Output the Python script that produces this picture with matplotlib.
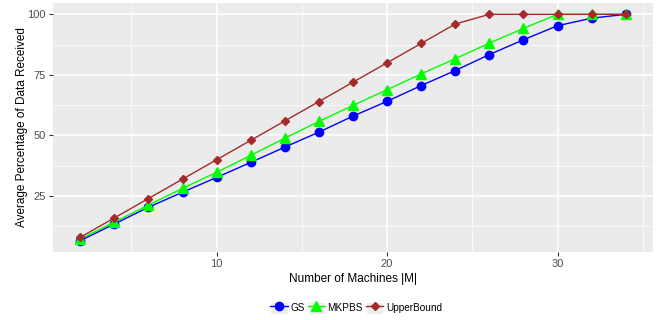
import matplotlib
matplotlib.use("Agg")
import matplotlib.pyplot as plt
from matplotlib.patches import Rectangle
from matplotlib.lines import Line2D
from matplotlib.legend_handler import HandlerTuple

plt.rcParams['font.family'] = ['Liberation Sans', 'DejaVu Sans']

machines = [2, 4, 6, 8, 10, 12, 14, 16, 18, 20, 22, 24, 26, 28, 30, 32, 34]
gs = [6.6, 13.5, 20.4, 26.6, 32.7, 38.9, 45.2, 51.4, 58.0, 64.1, 70.6, 76.8, 83.4, 89.5, 95.3, 98.4, 100]
mkpbs = [7.3, 14.3, 21.3, 28.2, 34.8, 41.8, 48.9, 55.8, 62.4, 68.9, 75.4, 81.7, 88.1, 94.2, 100, 100, 100]
upper = [8, 16, 24, 32, 40, 48, 56, 64, 72, 80, 88, 96, 100, 100, 100, 100, 100]
series_names = ["GS", "MKPBS", "UpperBound"]
x_ticks = [10, 20, 30]
y_ticks = [25, 50, 75, 100]

fig = plt.figure(figsize=(6.6, 3.2), dpi=100)
ax = fig.add_axes([53/660, 68/320, 600/660, 249/320])
ax.set_facecolor('#EBEBEB')
for s in ax.spines.values():
    s.set_visible(False)

styles = [
    dict(color='#0000FF', marker='o', ms=6.0),
    dict(color='#00FF00', marker='^', ms=6.8),
    dict(color='#A52A2A', marker='D', ms=3.8),
]
handles = []
for name, ys, st in zip(series_names, [gs, mkpbs, upper], styles):
    ax.plot(machines, ys, color=st['color'], marker=st['marker'], ms=st['ms'],
            lw=1.0, mec=st['color'], zorder=3)
    bg = Rectangle((0, 0), 1, 1, facecolor='#EDEDED', edgecolor='white', lw=0.8)
    ln = Line2D([], [], color=st['color'], marker=st['marker'], ms=st['ms'], lw=1.0)
    handles.append((bg, ln))

xmin, xmax = min(machines), max(machines)
ymin, ymax = min(gs), 100
dx = (xmax - xmin) * 0.05
dy = (ymax - ymin) * 0.05
ax.set_xlim(xmin - dx, xmax + dx)
ax.set_ylim(ymin - dy, ymax + dy)

ax.set_xticks(x_ticks)
ax.set_yticks(y_ticks)
ax.set_xticks([5, 15, 25, 35], minor=True)
ax.set_yticks([12.5, 37.5, 62.5, 87.5], minor=True)
ax.grid(which='major', color='white', lw=1.1, zorder=0)
ax.grid(which='minor', color='white', lw=0.5, zorder=0)
ax.set_axisbelow(True)
ax.tick_params(which='major', length=3, width=0.8, color='#333333', labelsize=8,
               labelcolor='#4D4D4D', pad=2)
ax.tick_params(which='minor', length=0)

ax.set_xlabel("Number of Machines |M|", fontsize=8.5, labelpad=3)
ax.set_ylabel("Average Percentage of Data Received", fontsize=8.5, labelpad=0)

fig.legend(handles, series_names, loc='center', bbox_to_anchor=(356/660, 12/320),
           ncol=3, frameon=False, fontsize=7.2, handlelength=1.75, handleheight=1.6,
           columnspacing=0.3, handletextpad=0.25,
           handler_map={tuple: HandlerTuple(ndivide=1)})

fig.savefig("out.png", dpi=100)
